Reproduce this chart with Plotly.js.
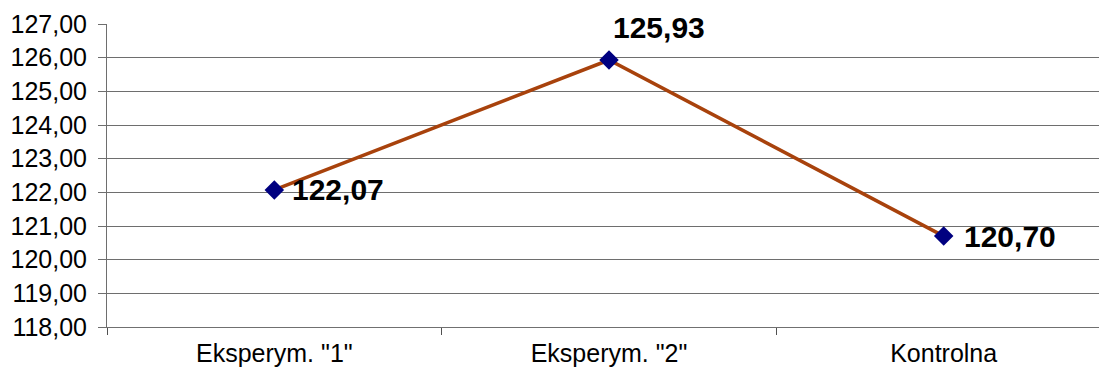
<!DOCTYPE html>
<html><head><meta charset="utf-8">
<script src="https://cdn.plot.ly/plotly-3.0.1.min.js"></script>
<style>html,body{margin:0;padding:0;overflow:hidden;background:#fff}#c{width:1111px;height:378px}</style>
</head><body><div id="c"></div>
<script>
const categories = ['Eksperym. "1"', 'Eksperym. "2"', 'Kontrolna'];
const values = [122.07, 125.93, 120.70];
const labels = ['122,07', '125,93', '120,70'];
const labelDx = [16, 2, 18];
const labelDy = [0, 33, 0];

const trace = {
  x: categories, y: values, type: 'scatter', mode: 'lines+markers',
  line: {color: '#A8420C', width: 3.5},
  marker: {symbol: 'diamond', size: 15, color: '#000080', line: {width: 0}},
  hoverinfo: 'none'
};
const annotations = categories.map((c, i) => ({
  x: c, y: values[i], xref: 'x', yref: 'y', text: labels[i], showarrow: false,
  xanchor: 'left', yanchor: 'middle', xshift: labelDx[i], yshift: labelDy[i],
  font: {family: 'Liberation Sans, Arial, sans-serif', size: 30, color: '#000', weight: 'bold'}
}));
const layout = {
  width: 1111, height: 378,
  margin: {l: 107, r: 0, t: 24, b: 51},
  paper_bgcolor: '#fff', plot_bgcolor: '#fff',
  showlegend: false,
  separators: ',.',
  font: {family: 'Liberation Sans, Arial, sans-serif', size: 25, color: '#000'},
  xaxis: {
    type: 'category', range: [-0.5, 2.5], showgrid: false, zeroline: false,
    showline: true, linecolor: '#707070', linewidth: 1,
    ticks: 'outside', tickson: 'boundaries', ticklen: 7, tickcolor: '#505050',
    ticklabelstandoff: 4,
    tickfont: {size: 25}
  },
  yaxis: {
    range: [118, 127], dtick: 1, tickformat: '.2f', showgrid: true,
    gridcolor: '#6e6e6e', gridwidth: 1, zeroline: false,
    showline: true, linecolor: '#6e6e6e', linewidth: 1,
    ticks: 'outside', ticklen: 8, tickcolor: '#6e6e6e',
    ticklabelstandoff: 6,
    tickfont: {size: 25}
  },
  annotations: annotations
};
Plotly.newPlot('c', [trace], layout, {displayModeBar: false, staticPlot: true});
</script></body></html>
